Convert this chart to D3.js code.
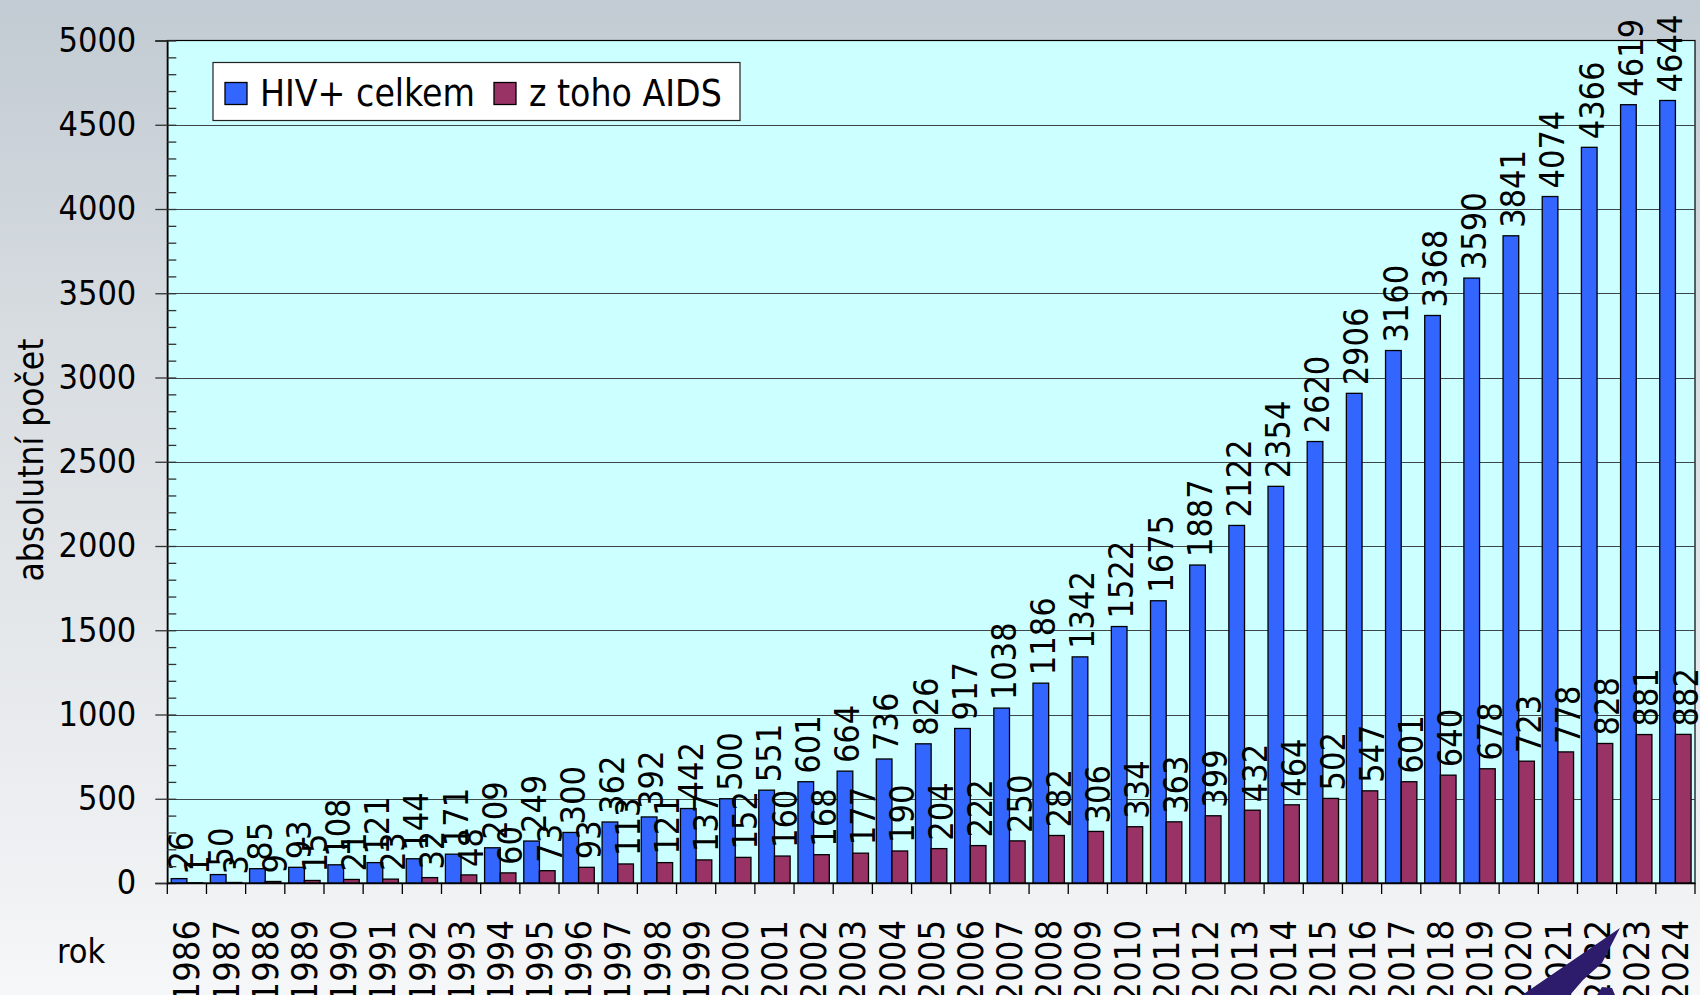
<!DOCTYPE html>
<html>
<head>
<meta charset="utf-8">
<script src="https://cdn.jsdelivr.net/npm/d3@7"></script>
<style>
  html, body { margin: 0; padding: 0; }
  body { width: 1700px; height: 995px; overflow: hidden; }
  svg text { font-family: "DejaVu Sans Condensed", "DejaVu Sans", sans-serif; font-stretch: condensed; fill: #000; }
</style>
</head>
<body>
<div id="chart"></div>
<script>
const width = 1700;
const height = 995;
const margin = { top: 40.5, right: 5, bottom: 112, left: 167.3 };

// cumulative counts per year
const years = ["1986", "1987", "1988", "1989", "1990", "1991", "1992", "1993", "1994", "1995",
  "1996", "1997", "1998", "1999", "2000", "2001", "2002", "2003", "2004", "2005",
  "2006", "2007", "2008", "2009", "2010", "2011", "2012", "2013", "2014", "2015",
  "2016", "2017", "2018", "2019", "2020", "2021", "2022", "2023", "2024"];
const hivTotal = [26, 50, 85, 93, 108, 121, 144, 171, 209, 249,
  300, 362, 392, 442, 500, 551, 601, 664, 736, 826,
  917, 1038, 1186, 1342, 1522, 1675, 1887, 2122, 2354, 2620,
  2906, 3160, 3368, 3590, 3841, 4074, 4366, 4619, 4644];
const aidsTotal = [1, 3, 9, 15, 21, 23, 32, 48, 60, 73,
  93, 113, 121, 137, 152, 160, 168, 177, 190, 204,
  222, 250, 282, 306, 334, 363, 399, 432, 464, 502,
  547, 601, 640, 678, 723, 778, 828, 881, 882];
const seriesNames = ["HIV+ celkem", "z toho AIDS"];
const yTicks = [0, 500, 1000, 1500, 2000, 2500, 3000, 3500, 4000, 4500, 5000];

const colors = ["#3366ff", "#993366"];

const rows = years.map((yr, i) => ({ year: yr, values: [hivTotal[i], aidsTotal[i]] }));

const svg = d3.select("#chart")
  .append("svg")
  .attr("width", width)
  .attr("height", height);

// page background
const grad = svg.append("defs").append("linearGradient")
  .attr("id", "bg")
  .attr("x1", 0).attr("y1", 0).attr("x2", 0).attr("y2", 1);
[[0, "#c2cbd3"], [0.35, "#d8dde1"], [0.65, "#e5e8eb"], [0.88, "#eff1f3"], [1, "#f5f7f9"]]
  .forEach(([o, c]) => grad.append("stop").attr("offset", o).attr("stop-color", c));

svg.append("rect")
  .attr("width", width)
  .attr("height", height)
  .attr("fill", "url(#bg)");

const x = d3.scaleBand()
  .domain(years)
  .range([margin.left, width - margin.right])
  .paddingInner(0)
  .paddingOuter(0);

const xInner = d3.scaleBand()
  .domain([0, 1])
  .range([0, x.bandwidth()])
  .paddingInner(0)
  .paddingOuter(0.25);

const y = d3.scaleLinear()
  .domain([0, 5000])
  .range([height - margin.bottom, margin.top]);

// plot area
svg.append("rect")
  .attr("x", margin.left)
  .attr("y", y(5000))
  .attr("width", width - margin.right - margin.left)
  .attr("height", y(0) - y(5000))
  .attr("fill", "#ccffff")
  .attr("stroke", "#000")
  .attr("stroke-width", 1.2);

// grid
svg.append("g")
  .selectAll("line")
  .data(yTicks.filter(t => t > 0 && t < 5000))
  .enter()
  .append("line")
  .attr("x1", margin.left)
  .attr("x2", width - margin.right)
  .attr("y1", d => Math.round(y(d)) + 0.5)
  .attr("y2", d => Math.round(y(d)) + 0.5)
  .attr("stroke", "#3c4848")
  .attr("stroke-width", 1.2);

// bars
const groups = svg.append("g")
  .selectAll("g")
  .data(rows)
  .enter()
  .append("g")
  .attr("transform", d => `translate(${x(d.year)},0)`);

groups.selectAll("rect")
  .data(d => d.values)
  .enter()
  .append("rect")
  .attr("x", (d, i) => xInner(i))
  .attr("y", d => y(d))
  .attr("width", xInner.bandwidth())
  .attr("height", d => y(0) - y(d))
  .attr("fill", (d, i) => colors[i])
  .attr("stroke", "#000")
  .attr("stroke-width", 1.3);

// y axis
const yAxis = svg.append("g")
  .attr("transform", `translate(${margin.left},0)`)
  .call(d3.axisLeft(y).tickValues(yTicks).tickSize(12).tickPadding(19).tickFormat(d3.format("d")));
yAxis.select(".domain").attr("stroke", "#000").attr("stroke-width", 1.5);
yAxis.selectAll(".tick line").attr("stroke", "#333").attr("stroke-width", 1.3);
yAxis.selectAll("text")
  .style("font-size", "34px")
  .attr("font-family", null);

// minor ticks inside plot
svg.append("g")
  .attr("transform", `translate(${margin.left},0)`)
  .call(d3.axisRight(y).ticks(50).tickSize(9).tickFormat(""))
  .call(g => g.select(".domain").remove())
  .selectAll(".tick line")
  .attr("stroke", "#333")
  .attr("stroke-width", 1.3);

// x axis
const xAxis = svg.append("g")
  .attr("transform", `translate(0,${y(0)})`)
  .call(d3.axisBottom(x).tickSize(0).tickPadding(0));
xAxis.select(".domain").attr("stroke", "#000").attr("stroke-width", 1.5);

// category separators below the axis
svg.append("g")
  .selectAll("line")
  .data(years.concat(["end"]))
  .enter()
  .append("line")
  .attr("x1", d => d === "end" ? x.range()[1] : x(d))
  .attr("x2", d => d === "end" ? x.range()[1] : x(d))
  .attr("y1", y(0))
  .attr("y2", y(0) + 11)
  .attr("stroke", "#000")
  .attr("stroke-width", 1.3);

// logo fragment in the corner
svg.append("path")
  .attr("d", "M1620,928 L1602,963 L1583,980 L1570,995 L1522,995 Z M1597,995 L1602,987 L1612,988 L1615,995 Z")
  .attr("fill", "#2d1b6b");

xAxis.selectAll("text")
  .attr("transform", "rotate(-90)")
  .attr("x", -37)
  .attr("y", 0)
  .attr("dy", "0.35em")
  .style("text-anchor", "end")
  .style("font-size", "36px");

svg.append("text")
  .attr("x", 57)
  .attr("y", 963)
  .style("font-size", "34px")
  .text("rok");

svg.append("text")
  .attr("transform", "translate(43,460) rotate(-90)")
  .style("text-anchor", "middle")
  .style("font-size", "35px")
  .text("absolutní počet");

// value labels
groups.selectAll("text.val")
  .data(d => d.values)
  .enter()
  .append("text")
  .attr("class", "val")
  .attr("transform", (d, i) => `translate(${xInner(i) + xInner.bandwidth() / 2},${y(d) - 8}) rotate(-90)`)
  .attr("dy", "0.42em")
  .style("font-size", "34px")
  .text(d => d);

// legend
const legend = svg.append("g").attr("transform", "translate(213,62.5)");
legend.append("rect")
  .attr("width", 527)
  .attr("height", 58)
  .attr("fill", "#fff")
  .attr("stroke", "#222")
  .attr("stroke-width", 1.2);

const legendX = [12, 281];
seriesNames.forEach((name, i) => {
  const item = legend.append("g").attr("transform", `translate(${legendX[i]},0)`);
  item.append("rect")
    .attr("y", 20)
    .attr("width", 22)
    .attr("height", 22)
    .attr("fill", colors[i])
    .attr("stroke", "#000")
    .attr("stroke-width", 1.3);
  item.append("text")
    .attr("x", 35)
    .attr("y", 43.5)
    .style("font-size", "37px")
    .text(name);
});
</script>
</body>
</html>
